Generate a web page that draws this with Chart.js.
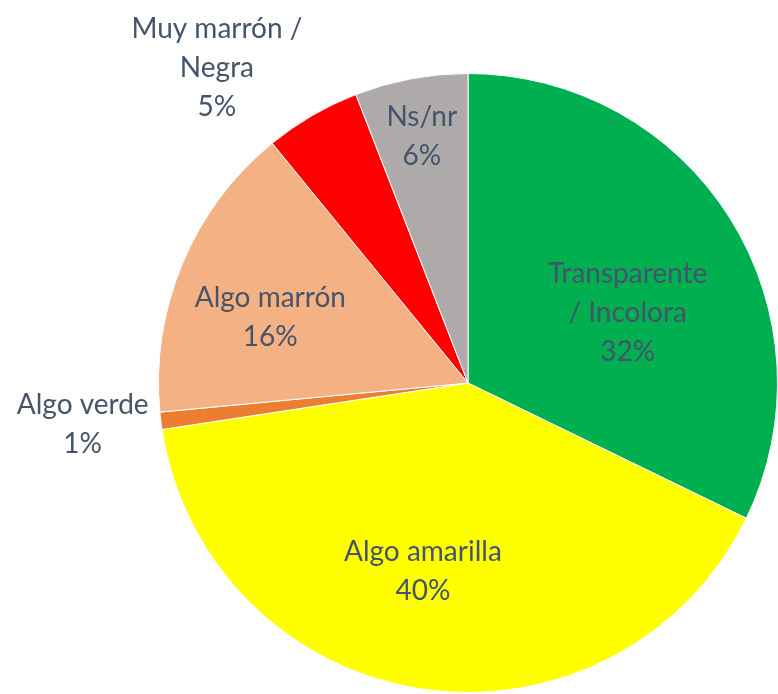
<!DOCTYPE html>
<html><head><meta charset="utf-8">
<style>html,body{margin:0;padding:0;background:#fff;}#wrap{width:778px;height:694px;}</style>
<script src="https://cdn.jsdelivr.net/npm/chart.js@4"></script>
</head><body><div id="wrap"><canvas id="c" width="778" height="694"></canvas></div>
<script>
const categories = [["Transparente", "/ Incolora"], ["Algo amarilla"], ["Algo verde"], ["Algo marrón"], ["Muy marrón /", "Negra"], ["Ns/nr"]];
const values = [32.2, 40.4, 0.9, 15.6, 5.0, 5.9];
const colors = ["#00B050", "#FFFF00", "#ED7D31", "#F4B183", "#FF0000", "#AEAAAA"];
// label placement: radius factor and angle offset (degrees)
const labelRadius = [0.563, 0.627, 1.252, 0.673, 1.302, 0.81];
const labelAngleOffset = [8.4, 4.8, 0.9, -4.3, -8.3, 0];

const labelPlugin = {
  id: 'sliceLabels',
  afterDatasetsDraw(chart) {
    const ctx = chart.ctx;
    const meta = chart.getDatasetMeta(0);
    const total = values.reduce((a, b) => a + b, 0);
    ctx.save();
    ctx.font = '28px Lato, "Open Sans", sans-serif';
    ctx.fillStyle = '#44546A';
    ctx.textAlign = 'center';
    ctx.textBaseline = 'middle';
    meta.data.forEach((arc, i) => {
      const p = arc.getProps(['x', 'y', 'startAngle', 'endAngle', 'outerRadius'], true);
      const mid = (p.startAngle + p.endAngle) / 2 + labelAngleOffset[i] * Math.PI / 180;
      const r = p.outerRadius * labelRadius[i];
      const cx = p.x + Math.cos(mid) * r;
      const cy = p.y + Math.sin(mid) * r;
      const lines = categories[i].concat([Math.round(values[i] / total * 100) + '%']);
      const lh = 39;
      const y0 = cy - (lines.length - 1) * lh / 2;
      lines.forEach((t, k) => ctx.fillText(t, cx, y0 + k * lh));
    });
    ctx.restore();
  }
};

new Chart(document.getElementById('c'), {
  type: 'pie',
  data: {
    labels: categories.map(c => c.join(' ')),
    datasets: [{ data: values, backgroundColor: colors, borderColor: '#ffffff', borderWidth: 1 }]
  },
  options: {
    responsive: false,
    animation: false,
    layout: { padding: { left: 158, right: 0, top: 73, bottom: 1 } },
    plugins: { legend: { display: false }, tooltip: { enabled: false } }
  },
  plugins: [labelPlugin]
});
</script></body></html>
